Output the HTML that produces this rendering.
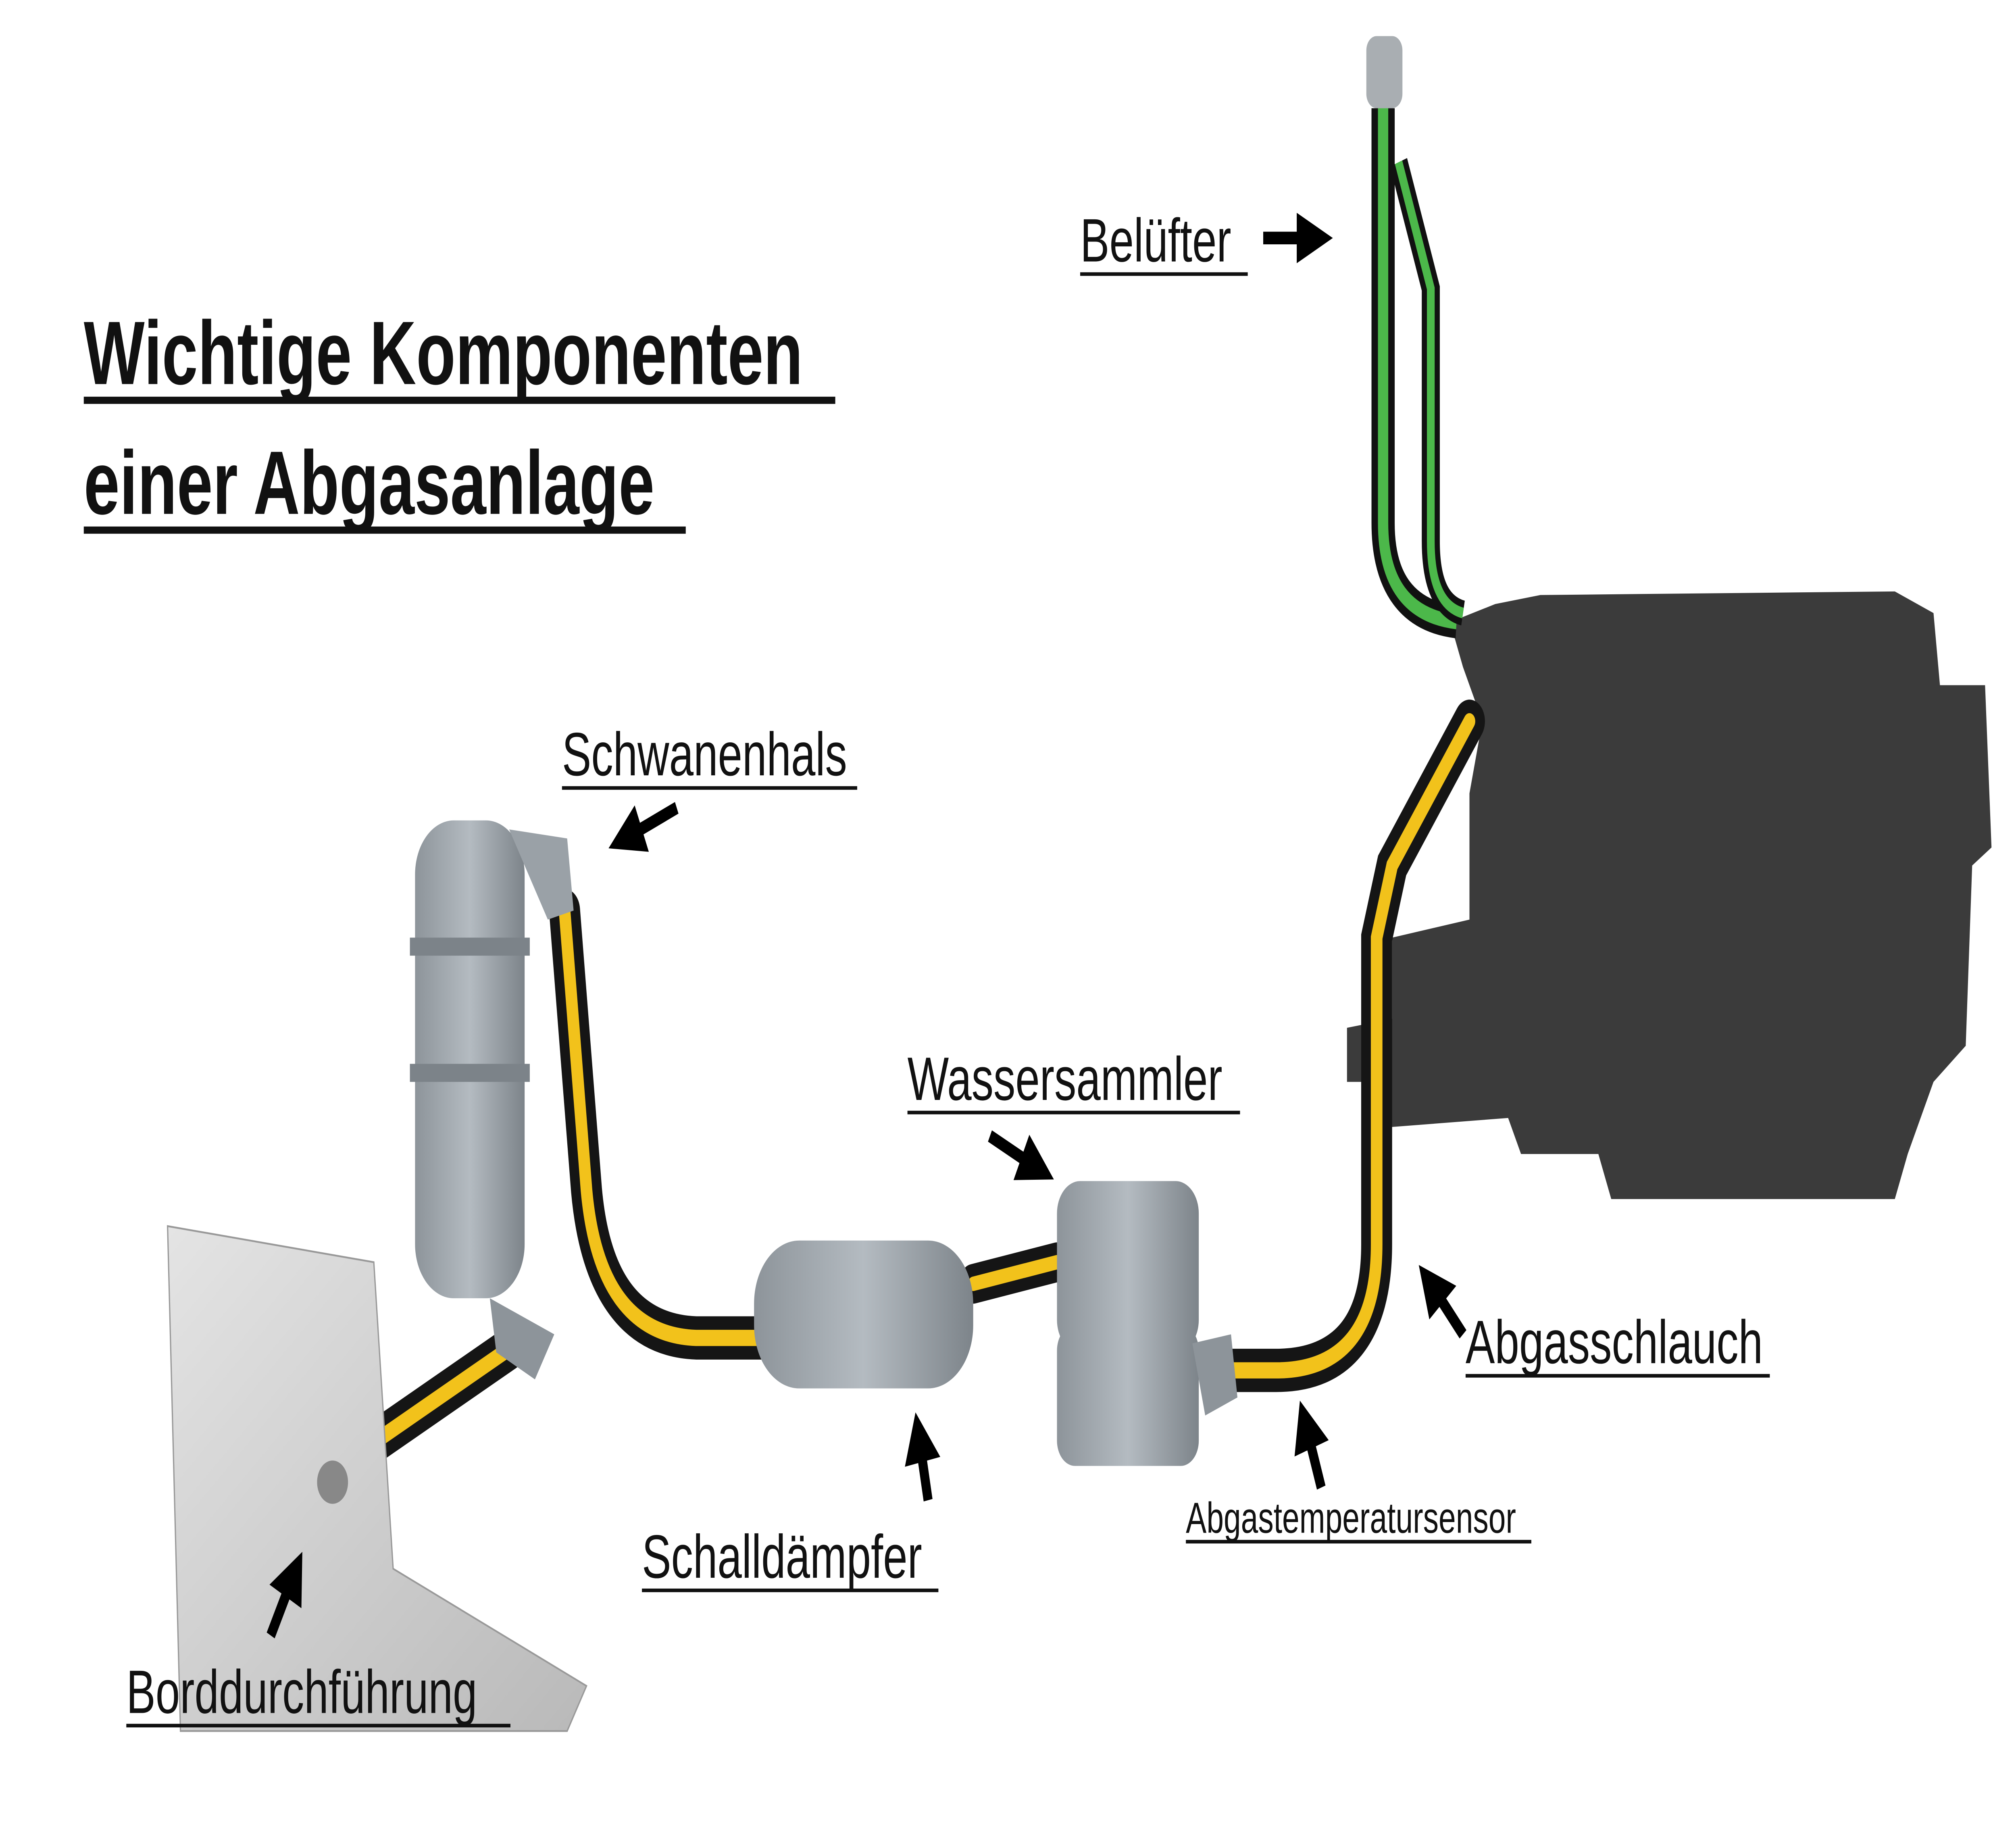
<!DOCTYPE html>
<html><head><meta charset="utf-8">
<style>
html,body{margin:0;padding:0;background:#fff;width:100%;height:100%;overflow:hidden}
svg{display:block;position:fixed;left:0;top:0;width:100vw;height:100vh}
text{font-family:"Liberation Sans",sans-serif;fill:#111}
</style></head><body>
<svg viewBox="0 0 1564 1021" preserveAspectRatio="none" xmlns="http://www.w3.org/2000/svg">
<defs>
<marker id="ah" markerWidth="4" markerHeight="4" refX="2" refY="2" orient="auto" markerUnits="strokeWidth">
<path d="M0,0 L4,2 L0,4 z" fill="#000"/></marker>
<linearGradient id="g1" x1="0" x2="1"><stop offset="0" stop-color="#8d949a"/><stop offset=".5" stop-color="#b4bbc1"/><stop offset="1" stop-color="#7d848a"/></linearGradient>
<linearGradient id="pl" x1="0" y1="0" x2="1" y2="1"><stop offset="0" stop-color="#e4e4e4"/><stop offset="1" stop-color="#b9b9b9"/></linearGradient>
</defs>
<rect width="1564" height="1021" fill="#fff"/>

<text x="65" y="213" font-size="50" font-weight="bold">Wichtige Komponenten</text>
<rect x="65" y="220" width="583" height="4" fill="#111"/>
<text x="65" y="285" font-size="50" font-weight="bold"> einer Abgasanlage</text>
<rect x="65" y="292" width="467" height="4" fill="#111"/>

<path d="M1195,330 L1470,328 L1500,340 L1505,380 L1540,380 L1545,470 L1530,480 L1525,580 L1500,600 L1480,640 L1470,665 L1250,665 L1240,640 L1180,640 L1170,620 L1080,625 L1075,600 L1045,600 L1045,570 L1080,565 L1080,520 L1140,510 L1140,440 L1150,400 L1135,370 L1125,345 L1160,335 z" fill="#3b3b3b"/>

<path d="M1073,60 L1073,290 Q1073,340 1130,345" fill="none" stroke="#111" stroke-width="18"/>
<path d="M1073,60 L1073,290 Q1073,340 1130,345" fill="none" stroke="#4cb84a" stroke-width="8"/>
<path d="M1085,90 L1110,160 L1110,300 Q1110,335 1135,340" fill="none" stroke="#111" stroke-width="14"/>
<path d="M1085,90 L1110,160 L1110,300 Q1110,335 1135,340" fill="none" stroke="#4cb84a" stroke-width="6"/>
<rect x="1060" y="20" width="28" height="40" rx="8" fill="#a9aeb2"/>

<g fill="none" stroke-linecap="round">
<path d="M1140,400 L1080,480 L1068,520 L1068,690 Q1068,760 990,760 L950,760" stroke="#151515" stroke-width="24"/>
<path d="M1140,400 L1080,480 L1068,520 L1068,690 Q1068,760 990,760 L950,760" stroke="#f2c21b" stroke-width="9"/>
<path d="M755,712 L820,700" stroke="#151515" stroke-width="22"/>
<path d="M755,712 L820,700" stroke="#f2c21b" stroke-width="8"/>
<path d="M438,505 L455,660 Q465,740 540,742 L595,742" stroke="#151515" stroke-width="24"/>
<path d="M438,505 L455,660 Q465,740 540,742 L595,742" stroke="#f2c21b" stroke-width="9"/>
<path d="M290,800 L395,748" stroke="#151515" stroke-width="24"/>
<path d="M290,800 L395,748" stroke="#f2c21b" stroke-width="9"/>
</g>

<path d="M130,680 L290,700 L305,870 L455,935 L440,960 L140,960 z" fill="url(#pl)" stroke="#999" stroke-width="1"/>
<circle cx="258" cy="822" r="12" fill="#888"/>

<rect x="322" y="455" width="85" height="265" rx="30" fill="url(#g1)"/>
<rect x="318" y="520" width="93" height="10" fill="#7c8389"/>
<rect x="318" y="590" width="93" height="10" fill="#7c8389"/>
<path d="M395,460 L440,465 L445,505 L425,510 z" fill="#9aa1a7"/>
<path d="M380,720 L430,740 L415,765 L385,750 z" fill="#8d949a"/>

<rect x="585" y="688" width="170" height="82" rx="35" fill="url(#g1)"/>

<rect x="820" y="655" width="110" height="95" rx="18" fill="url(#g1)"/>
<rect x="820" y="735" width="110" height="78" rx="14" fill="url(#g1)"/>
<path d="M925,745 L955,740 L960,775 L935,785 z" fill="#8d949a"/>

<g font-size="34">
<text x="838" y="145">Belüfter</text><rect x="838" y="151" width="130" height="2" fill="#111"/>
<text x="436" y="430">Schwanenhals</text><rect x="436" y="436" width="229" height="2" fill="#111"/>
<text x="704" y="610">Wassersammler</text><rect x="704" y="616" width="258" height="2" fill="#111"/>
<text x="1137" y="756">Abgasschlauch</text><rect x="1137" y="762" width="236" height="2" fill="#111"/>
<text x="498" y="875">Schalldämpfer</text><rect x="498" y="881" width="230" height="2" fill="#111"/>
<text x="98" y="950">Borddurchführung</text><rect x="98" y="956" width="298" height="2" fill="#111"/>
</g>
<text x="920" y="850" font-size="24">Abgastemperatursensor</text><rect x="920" y="854" width="268" height="2" fill="#111"/>

<g stroke="#000" stroke-width="7" fill="none" marker-end="url(#ah)">
<line x1="980" y1="132" x2="1020" y2="132"/>
<line x1="525" y1="448" x2="485" y2="465"/>
<line x1="768" y1="630" x2="805" y2="648"/>
<line x1="1135" y1="740" x2="1110" y2="712"/>
<line x1="720" y1="832" x2="713" y2="797"/>
<line x1="1025" y1="825" x2="1013" y2="790"/>
<line x1="210" y1="907" x2="228" y2="873"/>
</g>
</svg>
</body></html>
